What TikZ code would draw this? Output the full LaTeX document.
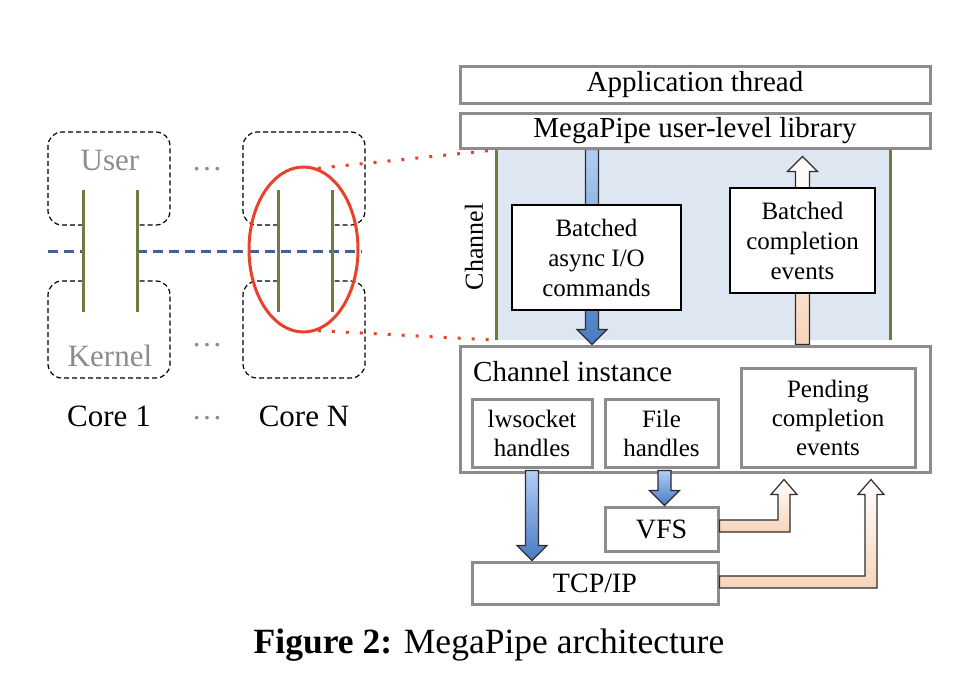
\documentclass[tikz,border=0pt]{standalone}
\usepackage{fontspec}
\setmainfont{Liberation Serif}
\usetikzlibrary{shapes.geometric,calc,backgrounds}

\definecolor{boxgray}{RGB}{140,140,140}
\definecolor{chanbg}{RGB}{222,230,242}
\definecolor{chgreen}{RGB}{110,124,62}
\definecolor{dashblue}{RGB}{62,100,150}
\definecolor{zoomred}{RGB}{232,66,42}
\definecolor{bluetop}{RGB}{178,206,245}
\definecolor{bluebot}{RGB}{72,122,194}
\definecolor{peach}{RGB}{247,212,186}
\definecolor{arrowline}{RGB}{45,45,45}
\definecolor{softgray}{RGB}{140,140,140}

% block arrows: #1 style, #2 start (gives x), #3 tip (gives y)
\newcommand{\downblock}[3]{%
  \path[#1] let \p1=(#2), \p2=(#3) in
    (\x1-6.5pt,\y1) -- (\x1-6.5pt,\y2+15pt) -- (\x1-15pt,\y2+15pt) -- (\x1,\y2)
    -- (\x1+15pt,\y2+15pt) -- (\x1+6.5pt,\y2+15pt) -- (\x1+6.5pt,\y1) -- cycle;}
\newcommand{\upblock}[3]{%
  \path[#1] let \p1=(#2), \p2=(#3) in
    (\x1-7pt,\y1) -- (\x1-7pt,\y2-15pt) -- (\x1-15pt,\y2-15pt) -- (\x1,\y2)
    -- (\x1+15pt,\y2-15pt) -- (\x1+7pt,\y2-15pt) -- (\x1+7pt,\y1) -- cycle;}
% elbow arrow: right from #2, then up to tip #3
\newcommand{\elbowblock}[3]{%
  \path[#1] let \p1=(#2), \p2=(#3) in
    (\x1,\y1+6pt) -- (\x2-6pt,\y1+6pt) -- (\x2-6pt,\y2-15pt) -- (\x2-13pt,\y2-15pt) -- (\x2,\y2)
    -- (\x2+13pt,\y2-15pt) -- (\x2+6pt,\y2-15pt) -- (\x2+6pt,\y1-6pt) -- (\x1,\y1-6pt) -- cycle;}

\begin{document}
\begin{tikzpicture}[
  x=1pt, y=-1pt,
  every node/.style={font=\fontsize{29}{34}\selectfont, align=center, inner sep=0pt},
  graybox/.style={draw=boxgray, line width=3pt, fill=white},
  inbox/.style={graybox, font=\fontsize{25}{29}\selectfont},
  thinbox/.style={draw=black, line width=1.3pt, fill=white, font=\fontsize{25}{30}\selectfont},
  corebox/.style={draw, dash pattern=on 5pt off 3pt, line width=1.2pt, rounded corners=14pt},
  chline/.style={draw=chgreen, line width=3pt},
  busline/.style={draw=dashblue, line width=3pt, dash pattern=on 10pt off 6pt},
  zoomline/.style={draw=zoomred, line width=3pt, dash pattern=on 3pt off 11pt},
  sidetext/.style={font=\fontsize{31}{36}\selectfont},
  blueshaft/.style={draw=arrowline, line width=1.2pt, top color=bluetop, bottom color=bluebot},
  peachshaft/.style={draw=arrowline, line width=1.2pt, top color=white, bottom color=peach}
]
\useasboundingbox (0,0) rectangle (954,686);

% left: cores with user/kernel halves
\foreach \cx in {48,243} {
  \draw[corebox] (\cx+35,225) -- (\cx,225) -- (\cx,132) -- (\cx+122,132) -- (\cx+122,225) -- (\cx+89,225);
  \draw[corebox] (\cx+35,281) -- (\cx,281) -- (\cx,378) -- (\cx+122,378) -- (\cx+122,281) -- (\cx+89,281);
}
\draw[busline] (48,251) -- (83,251);
\draw[busline] (137,251) -- (362,251);
\foreach \lx in {83,137,278,332}
  \draw[chline] (\lx,190) -- (\lx,312);
\node[sidetext, text=softgray] (user) at (110,160) {User};
\node[sidetext, text=softgray] (kernel) at (110,356) {Kernel};
\node[sidetext, text=softgray] (dotsu) at (207,169) {…};
\node[sidetext, text=softgray] (dotsk) at (207,345) {…};
\node[sidetext, text=softgray] (dotsc) at (207,418) {…};
\node[sidetext] (core1) at (109,416) {Core 1};
\node[sidetext] (coreN) at (304,416) {Core N};
\node[draw=zoomred, line width=3pt, ellipse, minimum width=109pt, minimum height=165pt] (focus) at (303.5,249.5) {};

% right: MegaPipe stack
\node[graybox, minimum width=470pt, minimum height=37pt] (app) at (695,84.5) {Application thread};
\node[graybox, minimum width=470pt, minimum height=35pt] (lib) at (695,130.5) {MegaPipe user-level library};
\node[graybox, minimum width=470pt, minimum height=126pt] (inst) at (695,409) {};
\node[anchor=west] (insttitle) at (473,372) {Channel instance};

\begin{scope}[on background layer]
\node[fill=chanbg, minimum width=393pt, minimum height=190pt] (chan) at (693.5,245) {};
\draw[chline] (chan.north west) -- (chan.south west);
\draw[chline] (chan.north east) -- (chan.south east);
\downblock{blueshaft}{$(lib.south)+(-103pt,0)$}{inst.north}
\upblock{peachshaft}{$(inst.north)+(107.5pt,0)$}{$(lib.south)+(0,-7pt)$}
\end{scope}
\node[rotate=90, font=\fontsize{26}{30}\selectfont] (chanlabel) at (474,247) {Channel};
\node[thinbox, minimum width=169pt, minimum height=105pt] (cmd) at (596.5,257.5) {Batched\\async I/O\\commands};
\node[thinbox, minimum width=145pt, minimum height=105pt] (cev) at (802.5,240.5) {Batched\\completion\\events};
\draw[zoomline] (focus.80) -- (chan.north west);
\draw[zoomline] (focus.-80) -- (chan.south west);

\node[inbox, minimum width=120pt, minimum height=68pt] (lws) at (532,433) {lwsocket\\handles};
\node[inbox, minimum width=113pt, minimum height=68pt] (fh) at (661.5,433) {File\\handles};
\node[inbox, minimum width=174pt, minimum height=99pt] (pend) at (828,417.5) {Pending\\completion\\events};
\node[graybox, minimum width=113pt, minimum height=44pt, font=\fontsize{28}{32}\selectfont] (vfs) at (661.5,529) {VFS};
\node[graybox, minimum width=246pt, minimum height=42pt, font=\fontsize{28}{32}\selectfont] (tcp) at (595,583) {TCP/IP};

\downblock{blueshaft}{$(lws.south)+(0,-2pt)$}{tcp.north}
\downblock{blueshaft}{$(fh.south)+(3pt,-2pt)$}{vfs.north}
\elbowblock{peachshaft}{$(vfs.east)+(0,3pt)$}{$(pend.south)+(-44pt,-11pt)$}
\elbowblock{peachshaft}{$(tcp.east)+(0,1pt)$}{$(pend.south)+(43pt,-11pt)$}

\node[font=\fontsize{35.5}{40}\selectfont] (caption) at (489,645) {\textbf{Figure 2:} MegaPipe architecture};
\end{tikzpicture}
\end{document}
